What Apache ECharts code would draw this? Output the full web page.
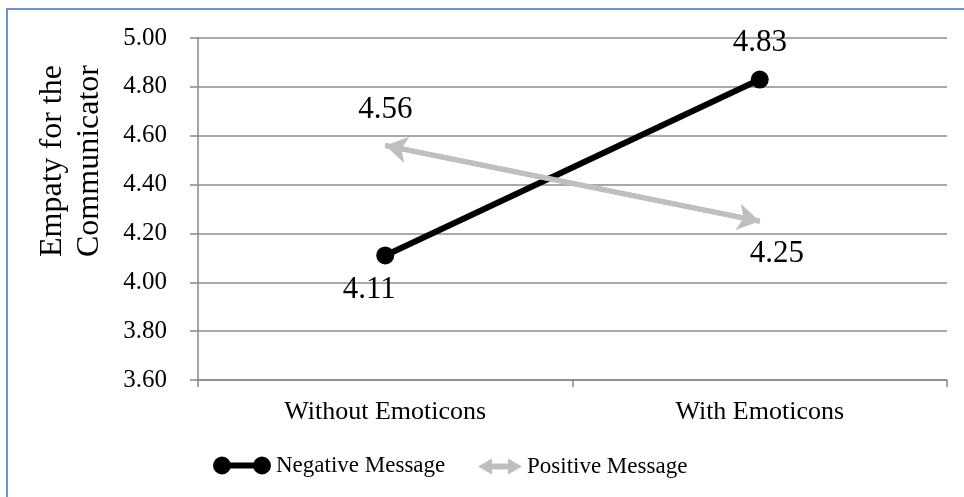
<!DOCTYPE html>
<html>
<head>
<meta charset="utf-8">
<script src="https://cdn.jsdelivr.net/npm/echarts@6/dist/echarts.min.js"></script>
<style>html,body{margin:0;padding:0;background:#fff;}#c{width:964px;height:497px;}</style>
</head>
<body>
<div id="c"></div>
<script>
var categories = ['Without Emoticons', 'With Emoticons'];
var negativeValues = [4.11, 4.83];
var positiveValues = [4.56, 4.25];
var seriesNames = ['Negative Message', 'Positive Message'];
var yTickLabels = ['3.60', '3.80', '4.00', '4.20', '4.40', '4.60', '4.80', '5.00'];
var yTitle = ['Empaty for the', 'Communicator'];

var FONT = '"Liberation Serif", "Times New Roman", serif';
var GRAY_AXIS = '#878787';
var POS_COLOR = '#bfbfbf';

var chart = echarts.init(document.getElementById('c'), null, {renderer: 'canvas'});

var negIcon = 'path://M0,9 A9,9 0 1,1 18,9 A9,9 0 1,1 0,9 Z M40,9 A9,9 0 1,1 58,9 A9,9 0 1,1 40,9 Z M17,6 L41,6 L41,12 L17,12 Z';
var posIcon = 'path://M0,8 L14,0 L14,5 L30,5 L30,0 L44,8 L30,16 L30,11 L14,11 L14,16 Z';

var legendText = {fontFamily: FONT, fontSize: 23, color: '#000'};

var option = {
  animation: false,
  backgroundColor: '#ffffff',
  textStyle: {fontFamily: FONT},
  grid: {left: 198, right: 17, top: 38, bottom: 117, containLabel: false, outerBoundsMode: 'none'},
  legend: [
    {
      left: 213,
      top: 454,
      padding: 0,
      itemWidth: 58,
      itemHeight: 18,
      selectedMode: false,
      textStyle: legendText,
      data: [{name: seriesNames[0], icon: negIcon, itemStyle: {color: '#000'}}]
    },
    {
      left: 478,
      top: 455,
      padding: 0,
      itemWidth: 44,
      itemHeight: 16,
      selectedMode: false,
      textStyle: legendText,
      data: [{name: seriesNames[1], icon: posIcon, itemStyle: {color: POS_COLOR}}]
    }
  ],
  graphic: [
    {
      type: 'rect',
      silent: true,
      shape: {x: 7, y: 9, width: 1100, height: 1100},
      style: {fill: 'none', stroke: '#6a93cf', lineWidth: 2},
      z: 100
    },
    {
      type: 'text',
      silent: true,
      x: 71,
      y: 161,
      rotation: Math.PI / 2,
      style: {
        text: yTitle.join('\n'),
        font: '32px ' + FONT,
        fill: '#000',
        align: 'center',
        verticalAlign: 'middle',
        lineHeight: 37
      }
    }
  ],
  xAxis: {
    type: 'category',
    data: categories,
    boundaryGap: true,
    axisLine: {show: true, lineStyle: {color: GRAY_AXIS, width: 1.5}},
    axisTick: {show: true, length: 7, alignWithLabel: false, lineStyle: {color: GRAY_AXIS, width: 1.5}},
    axisLabel: {fontFamily: FONT, fontSize: 26, color: '#000', margin: 19},
    splitLine: {show: false}
  },
  yAxis: {
    type: 'value',
    min: 3.6,
    max: 5.0,
    interval: 0.2,
    axisLine: {show: true, lineStyle: {color: GRAY_AXIS, width: 1.5}},
    axisTick: {show: true, length: 8, lineStyle: {color: GRAY_AXIS, width: 1.5}},
    axisLabel: {
      fontFamily: FONT, fontSize: 25, color: '#000', margin: 31,
      formatter: function (v) {
        var idx = Math.round((v - 3.6) / 0.2);
        return yTickLabels[idx] !== undefined ? yTickLabels[idx] : v.toFixed(2);
      }
    },
    splitLine: {show: true, lineStyle: {color: '#8c8c8c', width: 1.5}}
  },
  series: [
    {
      name: seriesNames[0],
      type: 'line',
      data: negativeValues.map(function (v, i) {
        return {
          value: v,
          label: {offset: i === 0 ? [-16, 34] : [0, -37]}
        };
      }),
      symbol: 'circle',
      symbolSize: 18,
      itemStyle: {color: '#000'},
      lineStyle: {color: '#000', width: 6},
      label: {
        show: true, position: 'inside',
        fontFamily: FONT, fontSize: 31, color: '#000',
        formatter: function (p) { return p.value.toFixed(2); }
      },
      emphasis: {disabled: true},
      silent: true,
      z: 2
    },
    {
      name: seriesNames[1],
      type: 'line',
      data: positiveValues.map(function (v, i) {
        return {
          value: v,
          label: {offset: i === 0 ? [0, -36] : [17, 33]}
        };
      }),
      symbol: 'circle',
      symbolSize: 0.1,
      showSymbol: true,
      itemStyle: {color: POS_COLOR},
      lineStyle: {color: POS_COLOR, width: 5},
      label: {
        show: true, position: 'inside',
        fontFamily: FONT, fontSize: 31, color: '#000',
        formatter: function (p) { return p.value.toFixed(2); }
      },
      markLine: {
        silent: true,
        symbol: ['arrow', 'arrow'],
        symbolSize: [20, 22],
        label: {show: false},
        lineStyle: {color: POS_COLOR, width: 5, type: 'solid'},
        emphasis: {disabled: true},
        data: [[
          {xAxis: 0, yAxis: positiveValues[0]},
          {xAxis: 1, yAxis: positiveValues[1]}
        ]]
      },
      emphasis: {disabled: true},
      silent: true,
      z: 3
    }
  ]
};

chart.setOption(option);
</script>
</body>
</html>
